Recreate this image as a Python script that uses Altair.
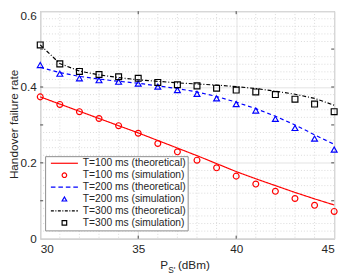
import altair as alt
import pandas as pd

# ---------------- data ----------------
x_vals = list(range(30, 46))

red_theory = [0.374, 0.355, 0.336, 0.317, 0.298, 0.279, 0.259, 0.239,
              0.219, 0.198, 0.177, 0.158, 0.140, 0.122, 0.105, 0.089]
red_sim = [0.374, 0.354, 0.335, 0.317, 0.298, 0.278, 0.251, 0.229,
           0.207, 0.187, 0.165, 0.144, 0.125, 0.106, 0.088, 0.072]

blue_theory = [0.452, 0.438, 0.428, 0.421, 0.415, 0.410, 0.403, 0.396,
               0.387, 0.375, 0.360, 0.343, 0.323, 0.300, 0.274, 0.249]
blue_sim = [0.458, 0.435, 0.423, 0.418, 0.414, 0.409, 0.401, 0.392,
            0.382, 0.370, 0.355, 0.338, 0.316, 0.292, 0.264, 0.235]

black_theory = [0.511, 0.462, 0.442, 0.432, 0.425, 0.419, 0.415, 0.411,
                0.408, 0.405, 0.401, 0.396, 0.389, 0.381, 0.370, 0.352]
black_sim = [0.511, 0.461, 0.441, 0.433, 0.427, 0.423, 0.412, 0.406,
             0.403, 0.397, 0.392, 0.387, 0.380, 0.368, 0.355, 0.335]

names = [
    "T=100 ms (theoretical)",
    "T=100 ms (simulation)",
    "T=200 ms (theoretical)",
    "T=200 ms (simulation)",
    "T=300 ms (theoretical)",
    "T=300 ms (simulation)",
]
colors = ["#ff0000", "#ff0000", "#0000ff", "#0000ff", "#000000", "#000000"]

x_major = [30, 35, 40, 45]
y_major = [0, 0.1, 0.2, 0.3, 0.4, 0.5, 0.6]
x_minor = [v for v in range(30, 46) if v % 5 != 0]
y_minor = [round(k * 0.02, 2) for k in range(1, 30) if k % 5 != 0]

# ---------------- tables ----------------
lines = pd.concat([
    pd.DataFrame({"x": x_vals, "y": red_theory, "series": names[0]}),
    pd.DataFrame({"x": x_vals, "y": blue_theory, "series": names[2]}),
    pd.DataFrame({"x": x_vals, "y": black_theory, "series": names[4]}),
])
points = pd.concat([
    pd.DataFrame({"x": x_vals, "y": red_sim, "series": names[1]}),
    pd.DataFrame({"x": x_vals, "y": blue_sim, "series": names[3]}),
    pd.DataFrame({"x": x_vals, "y": black_sim, "series": names[5]}),
])

W, H = 301, 233

xs = alt.Scale(domain=[30, 45], nice=False, zero=False)
ys = alt.Scale(domain=[0, 0.6], nice=False, zero=False)

# legend symbols for line entries (custom paths)
solid_path = "M-5.9,0L5.9,0"
dash_path = "M-5.9,0L-3.9,0M-2.63,0L-0.63,0M0.63,0L2.63,0M3.9,0L5.9,0"
dashdot_path = ("M-5.9,0L-4.6,0M-3.95,0L-3.5,0M-2.85,0L-1.55,0M-0.9,0L-0.45,0"
                "M0.2,0L1.5,0M2.15,0L2.6,0M3.25,0L4.55,0M5.2,0L5.9,0")
shapes = [solid_path, "circle", dash_path, "triangle-up", dashdot_path, "square"]

color_scale = alt.Scale(domain=names, range=colors)
shape_scale = alt.Scale(domain=names, range=shapes)

x_axis = alt.Axis(values=x_major, title=None, labelFontSize=12, labelFont="Liberation Sans",
                  labelColor="#262626", ticks=False, domain=False, grid=True,
                  gridColor="#e2e2e2", labelPadding=5)
y_axis = alt.Axis(values=y_major, title=None, labelFontSize=12, labelFont="Liberation Sans",
                  labelColor="#262626", ticks=False, domain=False, grid=True,
                  gridColor="#e2e2e2", labelPadding=4,
                  labelExpr="datum.value == 0 ? '0' : format(datum.value, '.1f')",
                  labelBaseline={"condition": {"test": "datum.value >= 0.6", "value": "top"},
                                 "value": "middle"})

X = alt.X("x:Q", scale=xs, axis=x_axis)
Y = alt.Y("y:Q", scale=ys, axis=y_axis)

minor_v = alt.Chart(pd.DataFrame({"x": x_minor})).mark_rule(
    color="#dadada", strokeDash=[1, 2], strokeWidth=1
).encode(x=X)

minor_h = alt.Chart(pd.DataFrame({"y": y_minor})).mark_rule(
    color="#dadada", strokeDash=[1, 2], strokeWidth=1
).encode(y=Y)

line_layer = alt.Chart(lines).mark_line(strokeWidth=1.2).encode(
    x=X, y=Y,
    color=alt.Color("series:N", scale=color_scale, sort=names, title=None),
    strokeDash=alt.StrokeDash("series:N", legend=None,
                              scale=alt.Scale(domain=[names[0], names[2], names[4]],
                                              range=[[1, 0], [4, 3], [4, 2, 1, 2]])),
)

point_layer = alt.Chart(points).mark_point(filled=False, size=36, strokeWidth=1.2, opacity=1).encode(
    x=X, y=Y,
    color=alt.Color("series:N", scale=color_scale, sort=names, title=None),
    shape=alt.Shape("series:N", scale=shape_scale, sort=names, title=None),
)

# inward ticks (box style)
tick_x = pd.DataFrame({"x": [35, 40]})
ticks_bottom = alt.Chart(tick_x).mark_rule(color="#444444", strokeWidth=1).encode(
    x=X, y=alt.datum(0), y2=alt.datum(0.008))
ticks_top = alt.Chart(tick_x).mark_rule(color="#444444", strokeWidth=1).encode(
    x=X, y=alt.datum(0.592), y2=alt.datum(0.6))
tick_y = pd.DataFrame({"y": [0.1, 0.2, 0.3, 0.4, 0.5]})
ticks_left = alt.Chart(tick_y).mark_rule(color="#444444", strokeWidth=1).encode(
    y=Y, x=alt.datum(30), x2=alt.datum(30.15))
ticks_right = alt.Chart(tick_y).mark_rule(color="#444444", strokeWidth=1).encode(
    y=Y, x=alt.datum(44.85), x2=alt.datum(45))

dummy = pd.DataFrame({"k": [0]})
txt = dict(font="Liberation Sans", color="#262626")
y_title = alt.Chart(dummy).mark_text(fontSize=12, angle=270, align="center",
                                     baseline="middle", **txt).encode(
    x=alt.value(-26.5), y=alt.value(116), text=alt.value("Handover failure rate"))
xt_p = alt.Chart(dummy).mark_text(fontSize=12, align="left", baseline="alphabetic", **txt).encode(
    x=alt.value(123), y=alt.value(264), text=alt.value("P"))
xt_s = alt.Chart(dummy).mark_text(fontSize=8.5, align="left", baseline="alphabetic", **txt).encode(
    x=alt.value(131), y=alt.value(268.5), text=alt.value("S'"))
xt_u = alt.Chart(dummy).mark_text(fontSize=12, align="left", baseline="alphabetic", **txt).encode(
    x=alt.value(141), y=alt.value(264), text=alt.value("(dBm)"))

chart = alt.layer(
    minor_v, minor_h, line_layer, point_layer,
    ticks_bottom, ticks_top, ticks_left, ticks_right,
    y_title, xt_p, xt_s, xt_u,
).resolve_scale(
    color="shared", shape="shared"
).properties(
    width=W, height=H,
    autosize=alt.AutoSizeParams(type="none"),
    padding={"left": 33, "top": 0, "right": 7, "bottom": 37},
).configure_view(
    stroke="#8c8c8c", strokeWidth=1
).configure_legend(
    orient="none", legendX=5, legendY=148.5,
    fillColor="white", strokeColor="#8c8c8c", padding=2,
    labelFont="Liberation Sans", labelFontSize=10.5, labelColor="#262626",
    symbolSize=22, symbolStrokeWidth=1.2, symbolOffset=12.5, labelOffset=13.6,
    rowPadding=1.2, titlePadding=0, symbolFillColor="transparent",
)

chart.save("out.html", embed_options={"renderer": "svg", "actions": False})
